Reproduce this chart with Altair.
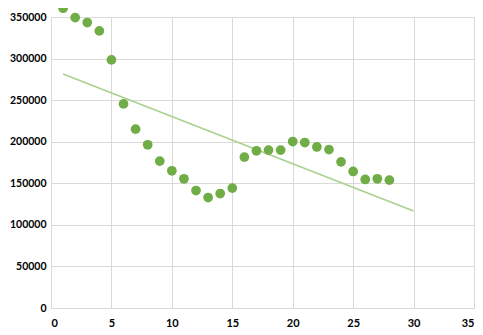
import altair as alt
import pandas as pd

periods = list(range(1, 29))
values = [360600, 349300, 343300, 333300, 298400, 245500, 215100, 196300,
          176600, 165000, 155400, 141300, 132900, 137700, 144200, 181500,
          189100, 189900, 189900, 200200, 199000, 193700, 190500, 175800,
          164200, 154600, 155400, 153800]
x_ticks = [0, 5, 10, 15, 20, 25, 30, 35]
y_ticks = [0, 50000, 100000, 150000, 200000, 250000, 300000, 350000]

df = pd.DataFrame({"x": periods, "y": values})

xs = alt.Scale(domain=[0, 35], nice=False)
ys = alt.Scale(domain=[0, 350000], nice=False)

x_axis = alt.Axis(values=x_ticks, title=None, grid=True, gridColor="#d9d9d9",
                  ticks=False, domain=True, domainColor="#d9d9d9",
                  labelFont="Lato", labelFontWeight="bold", labelFontSize=11,
                  labelColor="#000000", labelPadding=9, format="d")
y_axis = alt.Axis(values=y_ticks, title=None, grid=True, gridColor="#d9d9d9",
                  ticks=False, domain=False,
                  labelFont="Lato", labelFontWeight="bold", labelFontSize=10.5,
                  labelColor="#000000", labelPadding=5, format="d")

base = alt.Chart(df)

points = base.mark_point(filled=True, color="#70ad47", size=95, opacity=1).encode(
    x=alt.X("x:Q", scale=xs, axis=x_axis),
    y=alt.Y("y:Q", scale=ys, axis=y_axis),
)

trend = base.transform_regression("x", "y", extent=[1, 30]).mark_line(
    color="#a9d18e", strokeWidth=1.5
).encode(
    x=alt.X("x:Q", scale=xs),
    y=alt.Y("y:Q", scale=ys),
)

chart = alt.layer(trend, points).properties(
    width=423, height=291,
    autosize=alt.AutoSizeParams(type="none"),
    padding={"left": 43, "top": 9, "right": 1, "bottom": 25},
).configure_view(stroke=None)

chart.save("out.html", embed_options={"renderer": "svg", "actions": False})
